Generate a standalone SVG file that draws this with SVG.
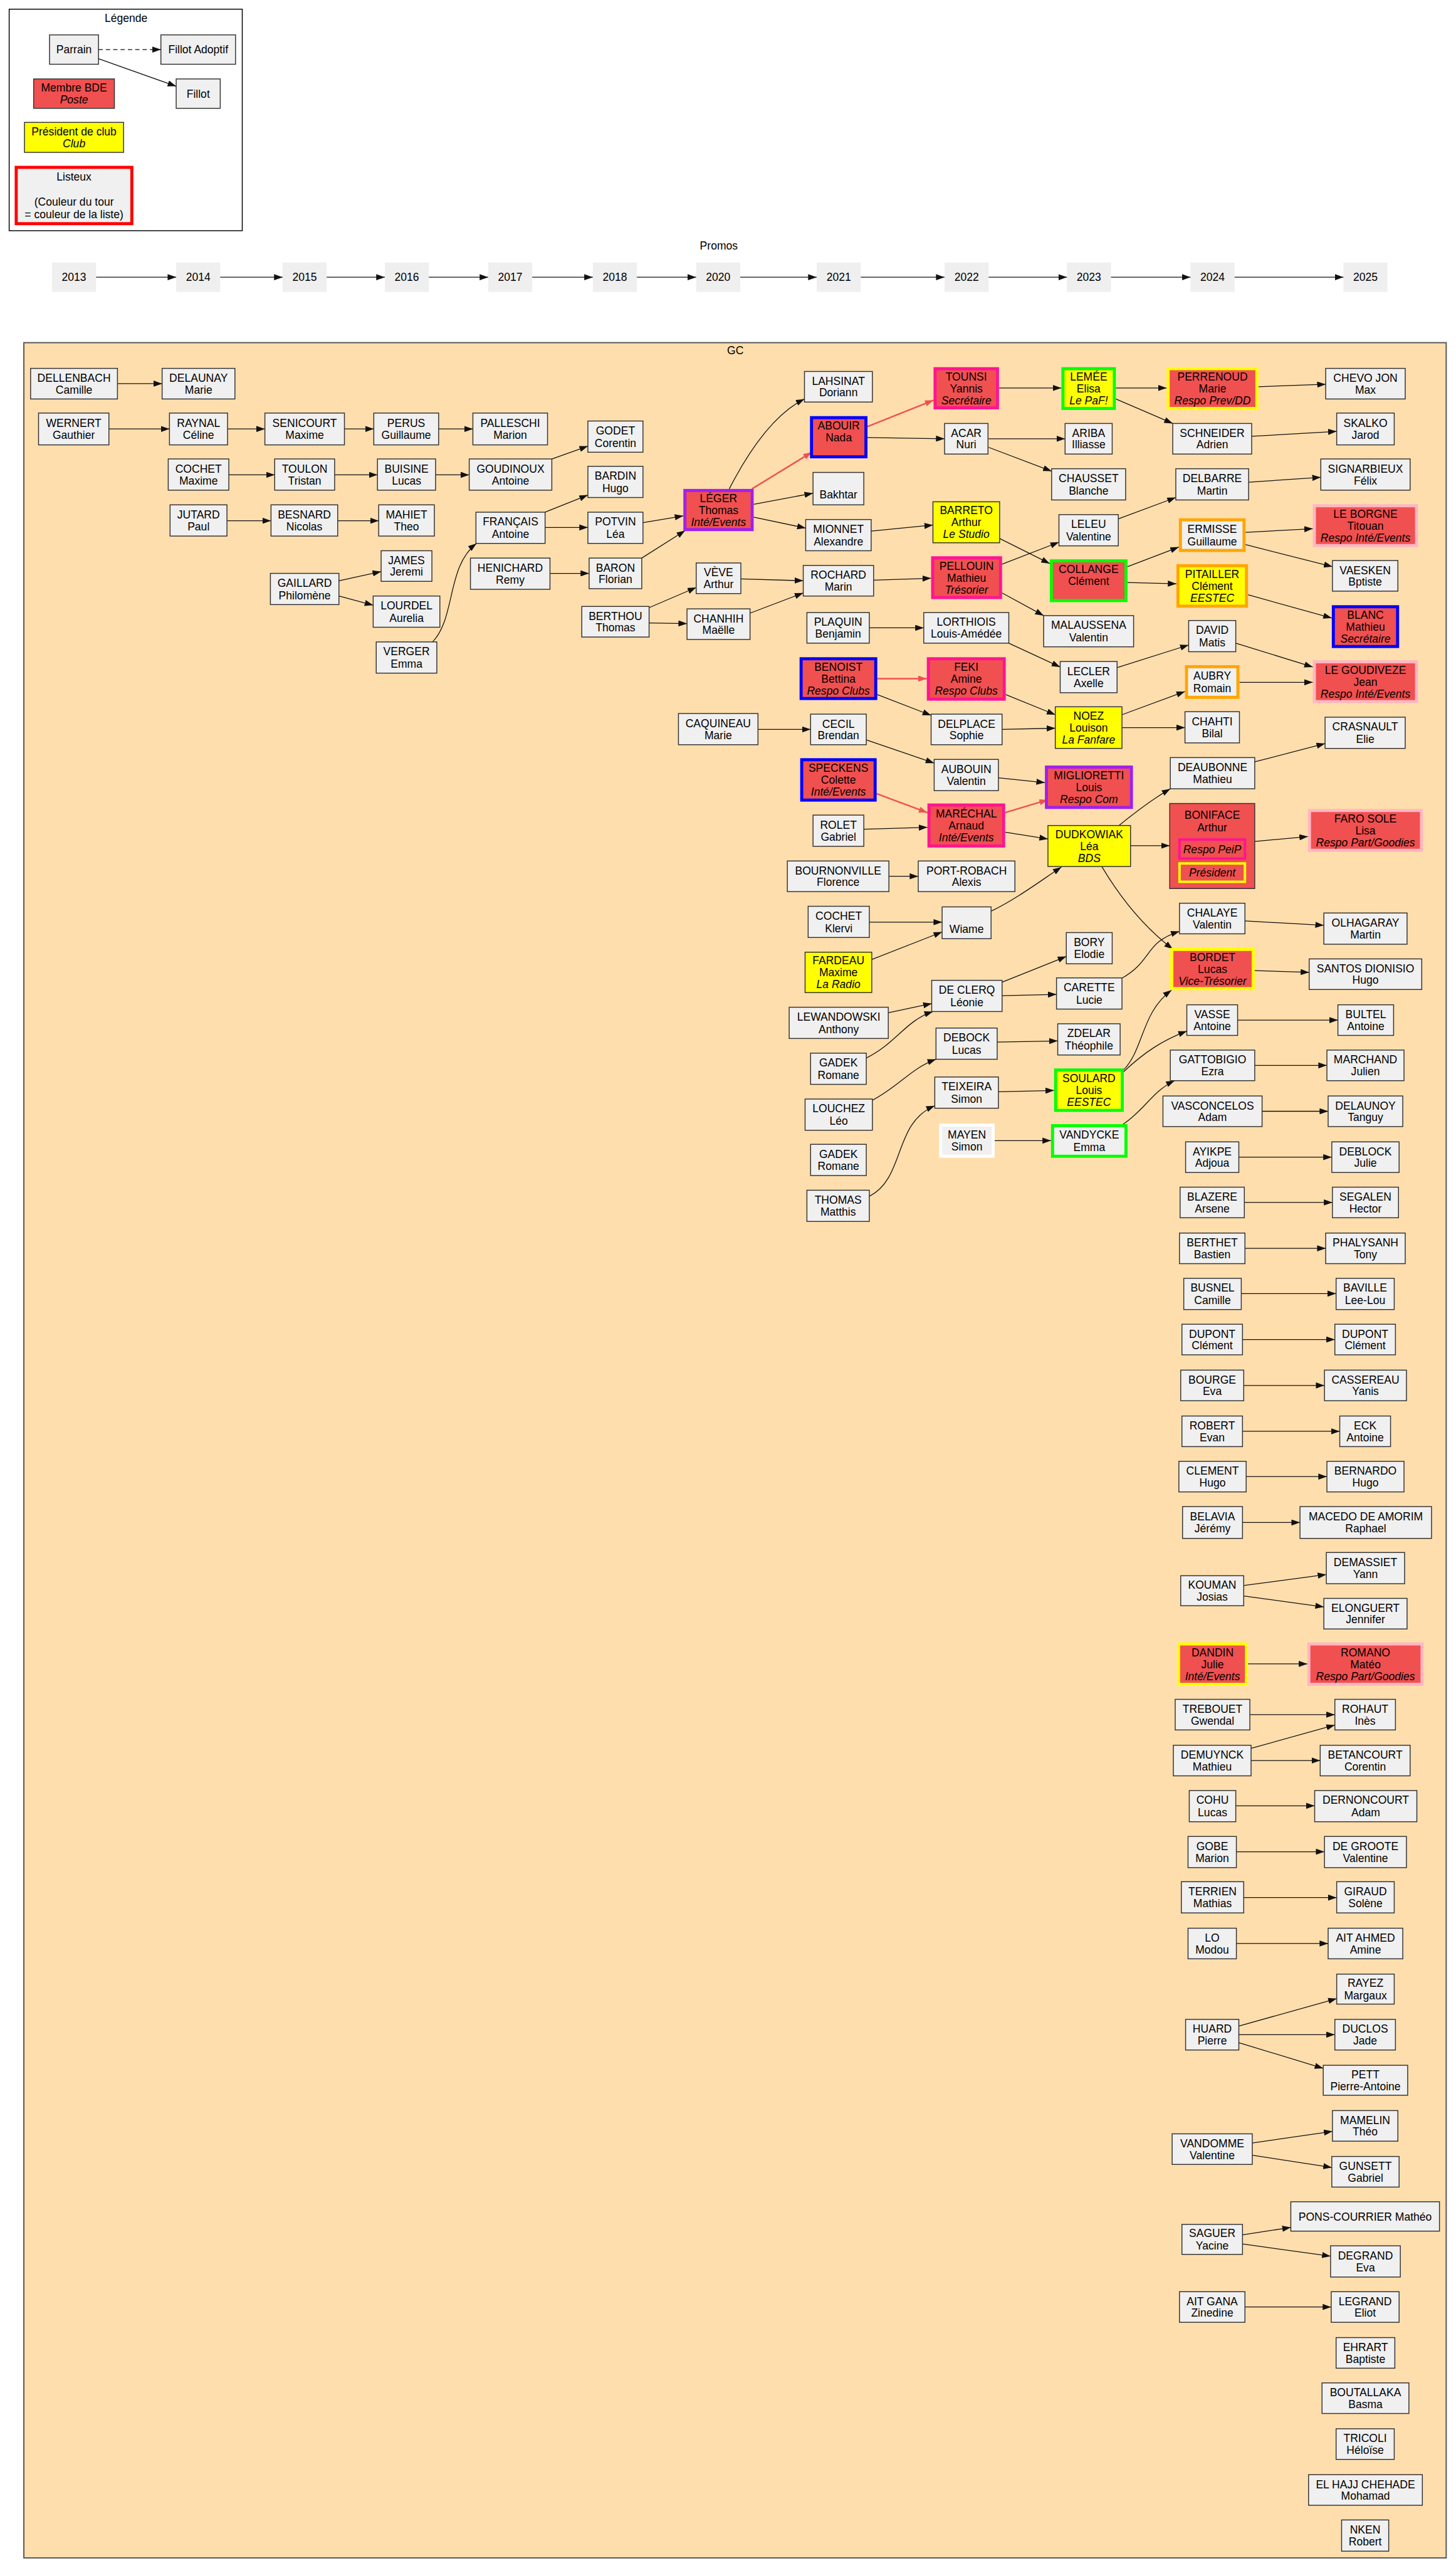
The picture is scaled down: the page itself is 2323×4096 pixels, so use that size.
<svg xmlns="http://www.w3.org/2000/svg" width="2323" height="4096" viewBox="0 0 2323 4096">
<style>
.n{fill:#f0f0f0;stroke:#333;stroke-width:1.5}
.r{fill:#f05050}
.y{fill:#ffff00}
.tk{stroke-width:5}
.sb{stroke:#0000ff}.sp{stroke:#ff1493}.su{stroke:#a020f0}.sg{stroke:#00ff00}.so{stroke:#ffa500}.sl{stroke:#ffb6c1}.sy{stroke:#ffff00}.sw{stroke:#ffffff}.sr{stroke:#ff0000}
.yr{fill:#efefef}
text{font-family:"Liberation Sans",Arial,sans-serif;font-size:18px;text-anchor:middle;fill:#000}
.i{font-style:italic}
.e{fill:none;stroke:#111;stroke-width:1.3;marker-end:url(#a)}
.er{fill:none;stroke:#f05050;stroke-width:2.5;marker-end:url(#ar)}
.d{stroke-dasharray:7,5}
</style>
<defs>
<marker id="a" markerUnits="userSpaceOnUse" markerWidth="14" markerHeight="10" refX="14" refY="5" orient="auto"><path d="M0,0L14,5L0,10z" fill="#111"/></marker>
<marker id="ar" markerUnits="userSpaceOnUse" markerWidth="14" markerHeight="10" refX="14" refY="5" orient="auto"><path d="M0,0L14,5L0,10z" fill="#f05050"/></marker>
</defs>
<rect width="2323" height="4096" fill="#fff"/>
<g transform="scale(0.97605)">
<g id="legend">
<rect x="15" y="15" width="381" height="362" fill="#fff" stroke="#000" stroke-width="1.5"/>
<text x="206" y="36">Légende</text>
<g id="lg-parrain"><rect class="n" x="81" y="57" width="80" height="48"/><text x="121" y="87.5">Parrain</text></g>
<g id="lg-adoptif"><rect class="n" x="263" y="57" width="122" height="48"/><text x="324" y="87.5">Fillot Adoptif</text></g>
<g id="lg-bde"><rect class="n r" x="55" y="129" width="132" height="48"/><text x="121"><tspan x="121" y="149.5">Membre BDE</tspan><tspan class="i" x="121" y="169">Poste</tspan></text></g>
<g id="lg-fillot"><rect class="n" x="288" y="129" width="72" height="48"/><text x="324" y="159.5">Fillot</text></g>
<g id="lg-club"><rect class="n y" x="40" y="200" width="162" height="49"/><text x="121"><tspan x="121" y="221">Président de club</tspan><tspan class="i" x="121" y="240.5">Club</tspan></text></g>
<g id="lg-listeux"><rect class="n tk sr" x="26.5" y="273.5" width="189" height="92"/><text x="121"><tspan x="121" y="295">Listeux</tspan><tspan x="121" y="336">(Couleur du tour</tspan><tspan x="121" y="356.5">= couleur de la liste)</tspan></text></g>
<path class="e d" d="M161,81L263,81"/>
<path class="e" d="M161,96L288,141"/>
</g>
<g id="promos">
<text x="1175" y="408">Promos</text>
<g id="y2013"><rect class="yr" x="85" y="429" width="72" height="48"/><text x="121" y="459.5">2013</text></g>
<g id="y2014"><rect class="yr" x="288" y="429" width="72" height="48"/><text x="324" y="459.5">2014</text></g>
<g id="y2015"><rect class="yr" x="462" y="429" width="72" height="48"/><text x="498" y="459.5">2015</text></g>
<g id="y2016"><rect class="yr" x="629" y="429" width="72" height="48"/><text x="665" y="459.5">2016</text></g>
<g id="y2017"><rect class="yr" x="798" y="429" width="72" height="48"/><text x="834" y="459.5">2017</text></g>
<g id="y2018"><rect class="yr" x="969" y="429" width="72" height="48"/><text x="1005" y="459.5">2018</text></g>
<g id="y2020"><rect class="yr" x="1138" y="429" width="72" height="48"/><text x="1174" y="459.5">2020</text></g>
<g id="y2021"><rect class="yr" x="1335" y="429" width="72" height="48"/><text x="1371" y="459.5">2021</text></g>
<g id="y2022"><rect class="yr" x="1544" y="429" width="72" height="48"/><text x="1580" y="459.5">2022</text></g>
<g id="y2023"><rect class="yr" x="1744" y="429" width="72" height="48"/><text x="1780" y="459.5">2023</text></g>
<g id="y2024"><rect class="yr" x="1946" y="429" width="72" height="48"/><text x="1982" y="459.5">2024</text></g>
<g id="y2025"><rect class="yr" x="2196" y="429" width="72" height="48"/><text x="2232" y="459.5">2025</text></g>
<path class="e" d="M157,453L288,453"/><path class="e" d="M360,453L462,453"/><path class="e" d="M534,453L629,453"/><path class="e" d="M701,453L798,453"/><path class="e" d="M870,453L969,453"/><path class="e" d="M1041,453L1138,453"/><path class="e" d="M1210,453L1335,453"/><path class="e" d="M1407,453L1544,453"/><path class="e" d="M1616,453L1744,453"/><path class="e" d="M1816,453L1946,453"/><path class="e" d="M2018,453L2196,453"/>
</g>
<g id="gc">
<rect x="39" y="560" width="2325" height="3620" fill="#ffdead" stroke="#555" stroke-width="2"/>
<text x="1202" y="579">GC</text>
</g>
<g id="edges">
<path class="e" d="M192,627L265,627"/>
<path class="e" d="M178,701L277,701"/>
<path class="e" d="M372,701L433,701"/>
<path class="e" d="M563,701L611,701"/>
<path class="e" d="M717,701L773,701"/>
<path class="e" d="M374,776L449,776"/>
<path class="e" d="M547,776L617,776"/>
<path class="e" d="M712,776L767,776"/>
<path class="e" d="M371,851L443,851"/>
<path class="e" d="M552,851L619,851"/>
<path class="e" d="M554,949L623,934"/>
<path class="e" d="M554,974L610,989"/>
<path class="e" d="M902,750L961,729"/>
<path class="e" d="M891,837L961,809"/>
<path class="e" d="M891,862L961,862"/>
<path class="e" d="M899,937L963,937"/>
<path class="e" d="M1051,854L1117,843"/>
<path class="e" d="M1049,912L1120,867"/>
<path class="e" d="M1232,824L1329,806"/>
<path class="e" d="M1232,845L1317,863"/>
<path class="e" d="M1061,993L1138,960"/>
<path class="e" d="M1061,1018L1123,1019"/>
<path class="e" d="M1211,946L1313,949"/>
<path class="e" d="M1226,1002L1313,969"/>
<path class="e" d="M1418,715L1544,717"/>
<path class="e" d="M1424,868L1525,858"/>
<path class="e" d="M1428,948L1522,945"/>
<path class="e" d="M1421,1026L1510,1026"/>
<path class="e" d="M1434,1135L1522,1169"/>
<path class="e" d="M1239,1192L1325,1192"/>
<path class="e" d="M1416,1209L1527,1247"/>
<path class="e" d="M1412,1355L1516,1352"/>
<path class="e" d="M1453,1432L1501,1432"/>
<path class="e" d="M1421,1507L1540,1507"/>
<path class="e" d="M1425,1568L1540,1523"/>
<path class="e" d="M1452,1655L1523,1640"/>
<path class="e" d="M1638,1605L1743,1563"/>
<path class="e" d="M1638,1627L1727,1625"/>
<path class="e" d="M1630,1703L1729,1701"/>
<path class="e" d="M1632,1784L1723,1782"/>
<path class="e" d="M1626,1864L1718,1864"/>
<path class="e" d="M1633,634L1735,634"/>
<path class="e" d="M1824,634L1907,634"/>
<path class="e" d="M1824,652L1917,692"/>
<path class="e" d="M2057,632L2167,628"/>
<path class="e" d="M1616,717L1741,717"/>
<path class="e" d="M1616,731L1719,770"/>
<path class="e" d="M2046,713L2185,705"/>
<path class="e" d="M2041,788L2159,780"/>
<path class="e" d="M1828,848L1922,813"/>
<path class="e" d="M1634,880L1716,921"/>
<path class="e" d="M1638,922L1731,886"/>
<path class="e" d="M1638,969L1706,1006"/>
<path class="e" d="M1843,926L1927,894"/>
<path class="e" d="M1843,952L1923,954"/>
<path class="e" d="M2036,870L2146,864"/>
<path class="e" d="M2036,890L2178,926"/>
<path class="e" d="M2040,972L2177,1010"/>
<path class="e" d="M1649,1051L1733,1090"/>
<path class="e" d="M1826,1091L1943,1054"/>
<path class="e" d="M2020,1051L2146,1090"/>
<path class="e" d="M2026,1115L2146,1115"/>
<path class="e" d="M1644,1135L1725,1168"/>
<path class="e" d="M1834,1168L1937,1130"/>
<path class="e" d="M1834,1189L1937,1189"/>
<path class="e" d="M1638,1192L1725,1190"/>
<path class="e" d="M2051,1245L2166,1215"/>
<path class="e" d="M1632,1271L1708,1279"/>
<path class="e" d="M1643,1360L1713,1371"/>
<path class="e" d="M1829,1349C1855,1328 1885,1305 1913,1289"/>
<path class="e" d="M1847,1382L1912,1382"/>
<path class="e" d="M2051,1375L2138,1367"/>
<path class="e" d="M2035,1505L2164,1512"/>
<path class="e" d="M2051,1586L2140,1589"/>
<path class="e" d="M2023,1667L2187,1667"/>
<path class="e" d="M2051,1741L2169,1741"/>
<path class="e" d="M2063,1816L2171,1816"/>
<path class="e" d="M2025,1891L2177,1891"/>
<path class="e" d="M2034,1965L2178,1965"/>
<path class="e" d="M2035,2040L2167,2040"/>
<path class="e" d="M2029,2114L2184,2114"/>
<path class="e" d="M2031,2189L2182,2189"/>
<path class="e" d="M2033,2264L2165,2264"/>
<path class="e" d="M2031,2339L2190,2339"/>
<path class="e" d="M2037,2413L2169,2413"/>
<path class="e" d="M2031,2488L2125,2488"/>
<path class="e" d="M2033,2591L2168,2573"/>
<path class="e" d="M2033,2608L2164,2626"/>
<path class="e" d="M2040,2719L2137,2719"/>
<path class="e" d="M2043,2802L2182,2802"/>
<path class="e" d="M2045,2857L2182,2819"/>
<path class="e" d="M2045,2877L2158,2877"/>
<path class="e" d="M2020,2951L2149,2951"/>
<path class="e" d="M2021,3026L2165,3026"/>
<path class="e" d="M2033,3101L2185,3101"/>
<path class="e" d="M2021,3176L2171,3176"/>
<path class="e" d="M2025,3311L2185,3266"/>
<path class="e" d="M2025,3325L2182,3325"/>
<path class="e" d="M2025,3338L2163,3380"/>
<path class="e" d="M2047,3502L2178,3483"/>
<path class="e" d="M2047,3522L2177,3542"/>
<path class="e" d="M2031,3652L2110,3640"/>
<path class="e" d="M2031,3667L2175,3687"/>
<path class="e" d="M2035,3770L2176,3770"/>
<path class="er" d="M1229,799L1327,739"/>
<path class="er" d="M1418,697L1526,654"/>
<path class="er" d="M1434,1109L1515,1109"/>
<path class="er" d="M1433,1297L1516,1328"/>
<path class="er" d="M1643,1328L1713,1307"/>
<path class="e" d="M1192,799C1225,735 1265,677 1315,652"/>
<path class="e" d="M707,1049C745,1010 730,925 779,888"/>
<path class="e" d="M1620,1489C1660,1470 1700,1440 1735,1417"/>
<path class="e" d="M1801,1416C1830,1465 1870,1515 1917,1551"/>
<path class="e" d="M1833,1599C1885,1570 1870,1540 1928,1522"/>
<path class="e" d="M1836,1749C1870,1715 1865,1655 1915,1618"/>
<path class="e" d="M1836,1752C1870,1720 1900,1700 1940,1685"/>
<path class="e" d="M1836,1837C1870,1815 1885,1782 1920,1766"/>
<path class="e" d="M1416,1729C1465,1705 1480,1668 1525,1653"/>
<path class="e" d="M1426,1798C1470,1775 1490,1745 1530,1731"/>
<path class="e" d="M1421,1955C1480,1925 1460,1835 1528,1807"/>
</g>
<g id="nodes">
<g id="dellenbach"><rect class="n" x="50" y="602" width="142" height="50"/><text><tspan x="121" y="624">DELLENBACH</tspan><tspan x="121" y="643">Camille</tspan></text></g>
<g id="wernert"><rect class="n" x="63" y="675" width="115" height="52"/><text><tspan x="120.5" y="698">WERNERT</tspan><tspan x="120.5" y="717">Gauthier</tspan></text></g>
<g id="delaunay"><rect class="n" x="265" y="602" width="119" height="50"/><text><tspan x="324.5" y="624">DELAUNAY</tspan><tspan x="324.5" y="643">Marie</tspan></text></g>
<g id="raynal"><rect class="n" x="277" y="675" width="95" height="52"/><text><tspan x="324.5" y="698">RAYNAL</tspan><tspan x="324.5" y="717">Céline</tspan></text></g>
<g id="cochet-maxime"><rect class="n" x="275" y="750" width="99" height="51"/><text><tspan x="324.5" y="772">COCHET</tspan><tspan x="324.5" y="792">Maxime</tspan></text></g>
<g id="jutard"><rect class="n" x="278" y="825" width="93" height="51"/><text><tspan x="324.5" y="847">JUTARD</tspan><tspan x="324.5" y="867">Paul</tspan></text></g>
<g id="senicourt"><rect class="n" x="433" y="675" width="130" height="52"/><text><tspan x="498" y="698">SENICOURT</tspan><tspan x="498" y="717">Maxime</tspan></text></g>
<g id="toulon"><rect class="n" x="449" y="750" width="98" height="51"/><text><tspan x="498" y="772">TOULON</tspan><tspan x="498" y="792">Tristan</tspan></text></g>
<g id="besnard"><rect class="n" x="443" y="825" width="109" height="51"/><text><tspan x="497.5" y="847">BESNARD</tspan><tspan x="497.5" y="867">Nicolas</tspan></text></g>
<g id="gaillard"><rect class="n" x="442" y="937" width="112" height="51"/><text><tspan x="498" y="959">GAILLARD</tspan><tspan x="498" y="979">Philomène</tspan></text></g>
<g id="perus"><rect class="n" x="611" y="675" width="106" height="52"/><text><tspan x="664" y="698">PERUS</tspan><tspan x="664" y="717">Guillaume</tspan></text></g>
<g id="buisine"><rect class="n" x="617" y="750" width="95" height="51"/><text><tspan x="664.5" y="772">BUISINE</tspan><tspan x="664.5" y="792">Lucas</tspan></text></g>
<g id="mahiet"><rect class="n" x="619" y="825" width="91" height="51"/><text><tspan x="664.5" y="847">MAHIET</tspan><tspan x="664.5" y="867">Theo</tspan></text></g>
<g id="james"><rect class="n" x="623" y="900" width="83" height="50"/><text><tspan x="664.5" y="922">JAMES</tspan><tspan x="664.5" y="941">Jeremi</tspan></text></g>
<g id="lourdel"><rect class="n" x="610" y="974" width="109" height="51"/><text><tspan x="664.5" y="996">LOURDEL</tspan><tspan x="664.5" y="1016">Aurelia</tspan></text></g>
<g id="verger"><rect class="n" x="615" y="1049" width="99" height="51"/><text><tspan x="664.5" y="1071">VERGER</tspan><tspan x="664.5" y="1091">Emma</tspan></text></g>
<g id="palleschi"><rect class="n" x="773" y="675" width="122" height="52"/><text><tspan x="834" y="698">PALLESCHI</tspan><tspan x="834" y="717">Marion</tspan></text></g>
<g id="goudinoux"><rect class="n" x="767" y="750" width="135" height="51"/><text><tspan x="834.5" y="772">GOUDINOUX</tspan><tspan x="834.5" y="792">Antoine</tspan></text></g>
<g id="francais"><rect class="n" x="778" y="837" width="113" height="51"/><text><tspan x="834.5" y="859">FRANÇAIS</tspan><tspan x="834.5" y="879">Antoine</tspan></text></g>
<g id="henichard"><rect class="n" x="769" y="912" width="130" height="51"/><text><tspan x="834" y="934">HENICHARD</tspan><tspan x="834" y="954">Remy</tspan></text></g>
<g id="godet"><rect class="n" x="961" y="688" width="90" height="51"/><text><tspan x="1006" y="710">GODET</tspan><tspan x="1006" y="730">Corentin</tspan></text></g>
<g id="bardin"><rect class="n" x="961" y="762" width="90" height="51"/><text><tspan x="1006" y="784">BARDIN</tspan><tspan x="1006" y="804">Hugo</tspan></text></g>
<g id="potvin"><rect class="n" x="961" y="837" width="90" height="51"/><text><tspan x="1006" y="859">POTVIN</tspan><tspan x="1006" y="879">Léa</tspan></text></g>
<g id="baron"><rect class="n" x="963" y="912" width="86" height="50"/><text><tspan x="1006" y="934">BARON</tspan><tspan x="1006" y="953">Florian</tspan></text></g>
<g id="berthou"><rect class="n" x="951" y="991" width="110" height="50"/><text><tspan x="1006" y="1013">BERTHOU</tspan><tspan x="1006" y="1032">Thomas</tspan></text></g>
<g id="leger"><rect class="n r tk su" x="1119.5" y="801.5" width="110" height="64"/><text><tspan x="1174.5" y="820.5">LÉGER</tspan><tspan x="1174.5" y="840">Thomas</tspan><tspan class="i" x="1174.5" y="859.5">Inté/Events</tspan></text></g>
<g id="veve"><rect class="n" x="1138" y="920" width="73" height="50"/><text><tspan x="1174.5" y="942">VÈVE</tspan><tspan x="1174.5" y="961">Arthur</tspan></text></g>
<g id="chanhih"><rect class="n" x="1123" y="995" width="103" height="50"/><text><tspan x="1174.5" y="1017">CHANHIH</tspan><tspan x="1174.5" y="1036">Maëlle</tspan></text></g>
<g id="caquineau"><rect class="n" x="1109" y="1166" width="130" height="51"/><text><tspan x="1174" y="1188">CAQUINEAU</tspan><tspan x="1174" y="1208">Marie</tspan></text></g>
<g id="lahsinat"><rect class="n" x="1315" y="607" width="111" height="50"/><text><tspan x="1370.5" y="629">LAHSINAT</tspan><tspan x="1370.5" y="648">Doriann</tspan></text></g>
<g id="abouir"><rect class="n r tk sb" x="1326.5" y="682.5" width="89" height="64"/><text><tspan x="1371" y="701.5">ABOUIR</tspan><tspan x="1371" y="721">Nada</tspan></text></g>
<g id="bakhtar"><rect class="n" x="1329" y="772" width="83" height="53"/><text x="1370.5" y="814.5">Bakhtar</text></g>
<g id="mionnet"><rect class="n" x="1317" y="849" width="107" height="51"/><text><tspan x="1370.5" y="871">MIONNET</tspan><tspan x="1370.5" y="891">Alexandre</tspan></text></g>
<g id="rochard"><rect class="n" x="1313" y="924" width="115" height="50"/><text><tspan x="1370.5" y="946">ROCHARD</tspan><tspan x="1370.5" y="965">Marin</tspan></text></g>
<g id="plaquin"><rect class="n" x="1319" y="1001" width="102" height="50"/><text><tspan x="1370" y="1023">PLAQUIN</tspan><tspan x="1370" y="1042">Benjamin</tspan></text></g>
<g id="benoist"><rect class="n r tk sb" x="1309.5" y="1076.5" width="122" height="65"/><text><tspan x="1370.5" y="1096">BENOIST</tspan><tspan x="1370.5" y="1115.5">Bettina</tspan><tspan class="i" x="1370.5" y="1135">Respo Clubs</tspan></text></g>
<g id="cecil"><rect class="n" x="1325" y="1167" width="91" height="50"/><text><tspan x="1370.5" y="1189">CECIL</tspan><tspan x="1370.5" y="1208">Brendan</tspan></text></g>
<g id="speckens"><rect class="n r tk sb" x="1310.5" y="1241.5" width="120" height="66"/><text><tspan x="1370.5" y="1261.5">SPECKENS</tspan><tspan x="1370.5" y="1281">Colette</tspan><tspan class="i" x="1370.5" y="1300.5">Inté/Events</tspan></text></g>
<g id="rolet"><rect class="n" x="1329" y="1332" width="83" height="51"/><text><tspan x="1370.5" y="1354">ROLET</tspan><tspan x="1370.5" y="1374">Gabriel</tspan></text></g>
<g id="bournonville"><rect class="n" x="1287" y="1407" width="166" height="50"/><text><tspan x="1370" y="1429">BOURNONVILLE</tspan><tspan x="1370" y="1448">Florence</tspan></text></g>
<g id="cochet-klervi"><rect class="n" x="1321" y="1481" width="100" height="51"/><text><tspan x="1371" y="1503">COCHET</tspan><tspan x="1371" y="1523">Klervi</tspan></text></g>
<g id="fardeau"><rect class="n y" x="1316" y="1556" width="109" height="66"/><text><tspan x="1370.5" y="1576">FARDEAU</tspan><tspan x="1370.5" y="1595.5">Maxime</tspan><tspan class="i" x="1370.5" y="1615">La Radio</tspan></text></g>
<g id="lewandowski"><rect class="n" x="1290" y="1646" width="162" height="51"/><text><tspan x="1371" y="1668">LEWANDOWSKI</tspan><tspan x="1371" y="1688">Anthony</tspan></text></g>
<g id="gadek-1"><rect class="n" x="1325" y="1721" width="91" height="51"/><text><tspan x="1370.5" y="1743">GADEK</tspan><tspan x="1370.5" y="1763">Romane</tspan></text></g>
<g id="louchez"><rect class="n" x="1316" y="1796" width="110" height="51"/><text><tspan x="1371" y="1818">LOUCHEZ</tspan><tspan x="1371" y="1838">Léo</tspan></text></g>
<g id="gadek-2"><rect class="n" x="1325" y="1870" width="91" height="51"/><text><tspan x="1370.5" y="1892">GADEK</tspan><tspan x="1370.5" y="1912">Romane</tspan></text></g>
<g id="thomas"><rect class="n" x="1319" y="1945" width="102" height="51"/><text><tspan x="1370" y="1967">THOMAS</tspan><tspan x="1370" y="1987">Matthis</tspan></text></g>
<g id="tounsi"><rect class="n r tk sp" x="1528.5" y="602.5" width="102" height="64"/><text><tspan x="1579.5" y="621.5">TOUNSI</tspan><tspan x="1579.5" y="641">Yannis</tspan><tspan class="i" x="1579.5" y="660.5">Secrétaire</tspan></text></g>
<g id="acar"><rect class="n" x="1544" y="692" width="71" height="50"/><text><tspan x="1579.5" y="714">ACAR</tspan><tspan x="1579.5" y="733">Nuri</tspan></text></g>
<g id="barreto"><rect class="n y" x="1525" y="820" width="109" height="67"/><text><tspan x="1579.5" y="840.5">BARRETO</tspan><tspan x="1579.5" y="860">Arthur</tspan><tspan class="i" x="1579.5" y="879.5">Le Studio</tspan></text></g>
<g id="pellouin"><rect class="n r tk sp" x="1524.5" y="911.5" width="111" height="65"/><text><tspan x="1580" y="931">PELLOUIN</tspan><tspan x="1580" y="950.5">Mathieu</tspan><tspan class="i" x="1580" y="970">Trésorier</tspan></text></g>
<g id="lorthiois"><rect class="n" x="1510" y="1001" width="139" height="50"/><text><tspan x="1579.5" y="1023">LORTHIOIS</tspan><tspan x="1579.5" y="1042">Louis-Amédée</tspan></text></g>
<g id="feki"><rect class="n r tk sp" x="1517.5" y="1076.5" width="124" height="66"/><text><tspan x="1579.5" y="1096.5">FEKI</tspan><tspan x="1579.5" y="1116">Amine</tspan><tspan class="i" x="1579.5" y="1135.5">Respo Clubs</tspan></text></g>
<g id="delplace"><rect class="n" x="1522" y="1167" width="116" height="50"/><text><tspan x="1580" y="1189">DELPLACE</tspan><tspan x="1580" y="1208">Sophie</tspan></text></g>
<g id="aubouin"><rect class="n" x="1527" y="1241" width="105" height="51"/><text><tspan x="1579.5" y="1263">AUBOUIN</tspan><tspan x="1579.5" y="1283">Valentin</tspan></text></g>
<g id="marechal"><rect class="n r tk sp" x="1518.5" y="1315.5" width="122" height="67"/><text><tspan x="1579.5" y="1336">MARÉCHAL</tspan><tspan x="1579.5" y="1355.5">Arnaud</tspan><tspan class="i" x="1579.5" y="1375">Inté/Events</tspan></text></g>
<g id="port-robach"><rect class="n" x="1501" y="1407" width="158" height="50"/><text><tspan x="1580" y="1429">PORT-ROBACH</tspan><tspan x="1580" y="1448">Alexis</tspan></text></g>
<g id="wiame"><rect class="n" x="1540" y="1482" width="80" height="52"/><text x="1580" y="1524">Wiame</text></g>
<g id="declerq"><rect class="n" x="1523" y="1602" width="115" height="51"/><text><tspan x="1580.5" y="1624">DE CLERQ</tspan><tspan x="1580.5" y="1644">Léonie</tspan></text></g>
<g id="debock"><rect class="n" x="1530" y="1680" width="100" height="51"/><text><tspan x="1580" y="1702">DEBOCK</tspan><tspan x="1580" y="1722">Lucas</tspan></text></g>
<g id="teixeira"><rect class="n" x="1528" y="1760" width="104" height="51"/><text><tspan x="1580" y="1782">TEIXEIRA</tspan><tspan x="1580" y="1802">Simon</tspan></text></g>
<g id="mayen"><rect class="n tk sw" x="1537.5" y="1838.5" width="86" height="51"/><text><tspan x="1580.5" y="1861">MAYEN</tspan><tspan x="1580.5" y="1880">Simon</tspan></text></g>
<g id="lemee"><rect class="n y tk sg" x="1737.5" y="602.5" width="84" height="65"/><text><tspan x="1779.5" y="622">LEMÉE</tspan><tspan x="1779.5" y="641.5">Elisa</tspan><tspan class="i" x="1779.5" y="661">Le PaF!</tspan></text></g>
<g id="ariba"><rect class="n" x="1741" y="692" width="77" height="50"/><text><tspan x="1779.5" y="714">ARIBA</tspan><tspan x="1779.5" y="733">Illiasse</tspan></text></g>
<g id="chausset"><rect class="n" x="1719" y="766" width="121" height="51"/><text><tspan x="1779.5" y="788">CHAUSSET</tspan><tspan x="1779.5" y="808">Blanche</tspan></text></g>
<g id="leleu"><rect class="n" x="1731" y="841" width="97" height="51"/><text><tspan x="1779.5" y="863">LELEU</tspan><tspan x="1779.5" y="883">Valentine</tspan></text></g>
<g id="collange"><rect class="n r tk sg" x="1718.5" y="916.5" width="122" height="65"/><text><tspan x="1779.5" y="936">COLLANGE</tspan><tspan x="1779.5" y="955.5">Clément</tspan></text></g>
<g id="malaussena"><rect class="n" x="1706" y="1006" width="147" height="51"/><text><tspan x="1779.5" y="1028">MALAUSSENA</tspan><tspan x="1779.5" y="1048">Valentin</tspan></text></g>
<g id="lecler"><rect class="n" x="1733" y="1081" width="93" height="51"/><text><tspan x="1779.5" y="1103">LECLER</tspan><tspan x="1779.5" y="1123">Axelle</tspan></text></g>
<g id="noez"><rect class="n y" x="1725" y="1155" width="109" height="68"/><text><tspan x="1779.5" y="1176">NOEZ</tspan><tspan x="1779.5" y="1195.5">Louison</tspan><tspan class="i" x="1779.5" y="1215">La Fanfare</tspan></text></g>
<g id="miglioretti"><rect class="n r tk su" x="1710.5" y="1253.5" width="139" height="66"/><text><tspan x="1780" y="1273.5">MIGLIORETTI</tspan><tspan x="1780" y="1293">Louis</tspan><tspan class="i" x="1780" y="1312.5">Respo Com</tspan></text></g>
<g id="dudkowiak"><rect class="n y" x="1713" y="1349" width="135" height="67"/><text><tspan x="1780.5" y="1369.5">DUDKOWIAK</tspan><tspan x="1780.5" y="1389">Léa</tspan><tspan class="i" x="1780.5" y="1408.5">BDS</tspan></text></g>
<g id="bory"><rect class="n" x="1743" y="1524" width="75" height="51"/><text><tspan x="1780.5" y="1546">BORY</tspan><tspan x="1780.5" y="1566">Elodie</tspan></text></g>
<g id="carette"><rect class="n" x="1727" y="1598" width="107" height="51"/><text><tspan x="1780.5" y="1620">CARETTE</tspan><tspan x="1780.5" y="1640">Lucie</tspan></text></g>
<g id="zdelar"><rect class="n" x="1729" y="1673" width="102" height="51"/><text><tspan x="1780" y="1695">ZDELAR</tspan><tspan x="1780" y="1715">Théophile</tspan></text></g>
<g id="soulard"><rect class="n y tk sg" x="1725.5" y="1748.5" width="109" height="66"/><text><tspan x="1780" y="1768.5">SOULARD</tspan><tspan x="1780" y="1788">Louis</tspan><tspan class="i" x="1780" y="1807.5">EESTEC</tspan></text></g>
<g id="vandycke"><rect class="n tk sg" x="1720.5" y="1839.5" width="120" height="50"/><text><tspan x="1780.5" y="1861">VANDYCKE</tspan><tspan x="1780.5" y="1881">Emma</tspan></text></g>
<g id="perrenoud"><rect class="n r tk sy" x="1909.5" y="602.5" width="145" height="65"/><text><tspan x="1982" y="622">PERRENOUD</tspan><tspan x="1982" y="641.5">Marie</tspan><tspan class="i" x="1982" y="661">Respo Prev/DD</tspan></text></g>
<g id="schneider"><rect class="n" x="1917" y="692" width="129" height="50"/><text><tspan x="1981.5" y="714">SCHNEIDER</tspan><tspan x="1981.5" y="733">Adrien</tspan></text></g>
<g id="delbarre"><rect class="n" x="1922" y="766" width="119" height="51"/><text><tspan x="1981.5" y="788">DELBARRE</tspan><tspan x="1981.5" y="808">Martin</tspan></text></g>
<g id="ermisse"><rect class="n tk so" x="1929.5" y="849.5" width="104" height="50"/><text><tspan x="1981.5" y="871">ERMISSE</tspan><tspan x="1981.5" y="891">Guillaume</tspan></text></g>
<g id="pitailler"><rect class="n y tk so" x="1925.5" y="924.5" width="112" height="66"/><text><tspan x="1981.5" y="944.5">PITAILLER</tspan><tspan x="1981.5" y="964">Clément</tspan><tspan class="i" x="1981.5" y="983.5">EESTEC</tspan></text></g>
<g id="david"><rect class="n" x="1943" y="1014" width="77" height="51"/><text><tspan x="1981.5" y="1036">DAVID</tspan><tspan x="1981.5" y="1056">Matis</tspan></text></g>
<g id="aubry"><rect class="n tk so" x="1939.5" y="1089.5" width="84" height="50"/><text><tspan x="1981.5" y="1111">AUBRY</tspan><tspan x="1981.5" y="1131">Romain</tspan></text></g>
<g id="chahti"><rect class="n" x="1937" y="1163" width="89" height="51"/><text><tspan x="1981.5" y="1185">CHAHTI</tspan><tspan x="1981.5" y="1205">Bilal</tspan></text></g>
<g id="deaubonne"><rect class="n" x="1913" y="1238" width="138" height="51"/><text><tspan x="1982" y="1260">DEAUBONNE</tspan><tspan x="1982" y="1280">Mathieu</tspan></text></g>
<g id="boniface"><rect class="n r" x="1912" y="1313" width="139" height="139"/><text><tspan x="1981.5" y="1338.5">BONIFACE</tspan><tspan x="1981.5" y="1358.5">Arthur</tspan></text>
<rect class="r" x="1928" y="1372" width="107" height="31" stroke="#ff1493" stroke-width="4"/><text class="i" x="1981.5" y="1394">Respo PeiP</text>
<rect class="r" x="1928" y="1411" width="107" height="30" stroke="#ffff00" stroke-width="4"/><text class="i" x="1981.5" y="1432.5">Président</text></g>
<g id="chalaye"><rect class="n" x="1928" y="1476" width="107" height="50"/><text><tspan x="1981.5" y="1498">CHALAYE</tspan><tspan x="1981.5" y="1517">Valentin</tspan></text></g>
<g id="bordet"><rect class="n r tk sy" x="1915.5" y="1551.5" width="133" height="64"/><text><tspan x="1982" y="1570.5">BORDET</tspan><tspan x="1982" y="1590">Lucas</tspan><tspan class="i" x="1982" y="1609.5">Vice-Trésorier</tspan></text></g>
<g id="vasse"><rect class="n" x="1940" y="1642" width="83" height="50"/><text><tspan x="1981.5" y="1664">VASSE</tspan><tspan x="1981.5" y="1683">Antoine</tspan></text></g>
<g id="gattobigio"><rect class="n" x="1913" y="1716" width="138" height="50"/><text><tspan x="1982" y="1738">GATTOBIGIO</tspan><tspan x="1982" y="1757">Ezra</tspan></text></g>
<g id="vasconcelos"><rect class="n" x="1901" y="1791" width="162" height="50"/><text><tspan x="1982" y="1813">VASCONCELOS</tspan><tspan x="1982" y="1832">Adam</tspan></text></g>
<g id="ayikpe"><rect class="n" x="1938" y="1866" width="87" height="50"/><text><tspan x="1981.5" y="1888">AYIKPE</tspan><tspan x="1981.5" y="1907">Adjoua</tspan></text></g>
<g id="blazere"><rect class="n" x="1929" y="1940" width="105" height="50"/><text><tspan x="1981.5" y="1962">BLAZERE</tspan><tspan x="1981.5" y="1981">Arsene</tspan></text></g>
<g id="berthet"><rect class="n" x="1928" y="2015" width="107" height="50"/><text><tspan x="1981.5" y="2037">BERTHET</tspan><tspan x="1981.5" y="2056">Bastien</tspan></text></g>
<g id="busnel"><rect class="n" x="1935" y="2089" width="94" height="51"/><text><tspan x="1982" y="2111">BUSNEL</tspan><tspan x="1982" y="2131">Camille</tspan></text></g>
<g id="dupont-1"><rect class="n" x="1932" y="2164" width="99" height="50"/><text><tspan x="1981.5" y="2186">DUPONT</tspan><tspan x="1981.5" y="2205">Clément</tspan></text></g>
<g id="bourge"><rect class="n" x="1930" y="2239" width="103" height="50"/><text><tspan x="1981.5" y="2261">BOURGE</tspan><tspan x="1981.5" y="2280">Eva</tspan></text></g>
<g id="robert"><rect class="n" x="1932" y="2314" width="99" height="50"/><text><tspan x="1981.5" y="2336">ROBERT</tspan><tspan x="1981.5" y="2355">Evan</tspan></text></g>
<g id="clement"><rect class="n" x="1927" y="2388" width="110" height="50"/><text><tspan x="1982" y="2410">CLEMENT</tspan><tspan x="1982" y="2429">Hugo</tspan></text></g>
<g id="belavia"><rect class="n" x="1933" y="2462" width="98" height="52"/><text><tspan x="1982" y="2485">BELAVIA</tspan><tspan x="1982" y="2504">Jérémy</tspan></text></g>
<g id="kouman"><rect class="n" x="1930" y="2575" width="103" height="49"/><text><tspan x="1981.5" y="2596">KOUMAN</tspan><tspan x="1981.5" y="2616">Josias</tspan></text></g>
<g id="dandin"><rect class="n r tk sy" x="1926.5" y="2686.5" width="111" height="66"/><text><tspan x="1982" y="2706.5">DANDIN</tspan><tspan x="1982" y="2726">Julie</tspan><tspan class="i" x="1982" y="2745.5">Inté/Events</tspan></text></g>
<g id="trebouet"><rect class="n" x="1921" y="2777" width="122" height="50"/><text><tspan x="1982" y="2799">TREBOUET</tspan><tspan x="1982" y="2818">Gwendal</tspan></text></g>
<g id="demuynck"><rect class="n" x="1918" y="2852" width="127" height="50"/><text><tspan x="1981.5" y="2874">DEMUYNCK</tspan><tspan x="1981.5" y="2893">Mathieu</tspan></text></g>
<g id="cohu"><rect class="n" x="1944" y="2926" width="76" height="51"/><text><tspan x="1982" y="2948">COHU</tspan><tspan x="1982" y="2968">Lucas</tspan></text></g>
<g id="gobe"><rect class="n" x="1942" y="3001" width="79" height="51"/><text><tspan x="1981.5" y="3023">GOBE</tspan><tspan x="1981.5" y="3043">Marion</tspan></text></g>
<g id="terrien"><rect class="n" x="1931" y="3075" width="102" height="51"/><text><tspan x="1982" y="3097">TERRIEN</tspan><tspan x="1982" y="3117">Mathias</tspan></text></g>
<g id="lo"><rect class="n" x="1942" y="3151" width="79" height="50"/><text><tspan x="1981.5" y="3173">LO</tspan><tspan x="1981.5" y="3192">Modou</tspan></text></g>
<g id="huard"><rect class="n" x="1938" y="3300" width="87" height="50"/><text><tspan x="1981.5" y="3322">HUARD</tspan><tspan x="1981.5" y="3341">Pierre</tspan></text></g>
<g id="vandomme"><rect class="n" x="1916" y="3487" width="131" height="50"/><text><tspan x="1981.5" y="3509">VANDOMME</tspan><tspan x="1981.5" y="3528">Valentine</tspan></text></g>
<g id="saguer"><rect class="n" x="1932" y="3635" width="99" height="49"/><text><tspan x="1981.5" y="3656">SAGUER</tspan><tspan x="1981.5" y="3676">Yacine</tspan></text></g>
<g id="aitgana"><rect class="n" x="1928" y="3745" width="107" height="50"/><text><tspan x="1981.5" y="3767">AIT GANA</tspan><tspan x="1981.5" y="3786">Zinedine</tspan></text></g>
<g id="chevojon"><rect class="n" x="2167" y="602" width="130" height="50"/><text><tspan x="2232" y="624">CHEVO JON</tspan><tspan x="2232" y="643">Max</tspan></text></g>
<g id="skalko"><rect class="n" x="2185" y="675" width="94" height="52"/><text><tspan x="2232" y="698">SKALKO</tspan><tspan x="2232" y="717">Jarod</tspan></text></g>
<g id="signarbieux"><rect class="n" x="2159" y="750" width="146" height="51"/><text><tspan x="2232" y="772">SIGNARBIEUX</tspan><tspan x="2232" y="792">Félix</tspan></text></g>
<g id="leborgne"><rect class="n r tk sl" x="2148.5" y="826.5" width="167" height="65"/><text><tspan x="2232" y="846">LE BORGNE</tspan><tspan x="2232" y="865.5">Titouan</tspan><tspan class="i" x="2232" y="885">Respo Inté/Events</tspan></text></g>
<g id="vaesken"><rect class="n" x="2178" y="916" width="107" height="50"/><text><tspan x="2231.5" y="938">VAESKEN</tspan><tspan x="2231.5" y="957">Bptiste</tspan></text></g>
<g id="blanc"><rect class="n r tk sb" x="2179.5" y="991.5" width="105" height="65"/><text><tspan x="2232" y="1011">BLANC</tspan><tspan x="2232" y="1030.5">Mathieu</tspan><tspan class="i" x="2232" y="1050">Secrétaire</tspan></text></g>
<g id="legoudiveze"><rect class="n r tk sl" x="2148.5" y="1081.5" width="167" height="65"/><text><tspan x="2232" y="1101">LE GOUDIVEZE</tspan><tspan x="2232" y="1120.5">Jean</tspan><tspan class="i" x="2232" y="1140">Respo Inté/Events</tspan></text></g>
<g id="crasnault"><rect class="n" x="2166" y="1172" width="131" height="51"/><text><tspan x="2231.5" y="1194">CRASNAULT</tspan><tspan x="2231.5" y="1214">Elie</tspan></text></g>
<g id="farosole"><rect class="n r tk sl" x="2140.5" y="1324.5" width="183" height="65"/><text><tspan x="2232" y="1344">FARO SOLE</tspan><tspan x="2232" y="1363.5">Lisa</tspan><tspan class="i" x="2232" y="1383">Respo Part/Goodies</tspan></text></g>
<g id="olhagaray"><rect class="n" x="2164" y="1492" width="136" height="51"/><text><tspan x="2232" y="1514">OLHAGARAY</tspan><tspan x="2232" y="1534">Martin</tspan></text></g>
<g id="santos"><rect class="n" x="2140" y="1567" width="184" height="50"/><text><tspan x="2232" y="1589">SANTOS DIONISIO</tspan><tspan x="2232" y="1608">Hugo</tspan></text></g>
<g id="bultel"><rect class="n" x="2187" y="1642" width="91" height="50"/><text><tspan x="2232.5" y="1664">BULTEL</tspan><tspan x="2232.5" y="1683">Antoine</tspan></text></g>
<g id="marchand"><rect class="n" x="2169" y="1716" width="126" height="50"/><text><tspan x="2232" y="1738">MARCHAND</tspan><tspan x="2232" y="1757">Julien</tspan></text></g>
<g id="delaunoy"><rect class="n" x="2171" y="1791" width="122" height="50"/><text><tspan x="2232" y="1813">DELAUNOY</tspan><tspan x="2232" y="1832">Tanguy</tspan></text></g>
<g id="deblock"><rect class="n" x="2177" y="1866" width="110" height="50"/><text><tspan x="2232" y="1888">DEBLOCK</tspan><tspan x="2232" y="1907">Julie</tspan></text></g>
<g id="segalen"><rect class="n" x="2178" y="1940" width="108" height="50"/><text><tspan x="2232" y="1962">SEGALEN</tspan><tspan x="2232" y="1981">Hector</tspan></text></g>
<g id="phalysanh"><rect class="n" x="2167" y="2015" width="130" height="50"/><text><tspan x="2232" y="2037">PHALYSANH</tspan><tspan x="2232" y="2056">Tony</tspan></text></g>
<g id="baville"><rect class="n" x="2184" y="2089" width="95" height="51"/><text><tspan x="2231.5" y="2111">BAVILLE</tspan><tspan x="2231.5" y="2131">Lee-Lou</tspan></text></g>
<g id="dupont-2"><rect class="n" x="2182" y="2164" width="99" height="50"/><text><tspan x="2231.5" y="2186">DUPONT</tspan><tspan x="2231.5" y="2205">Clément</tspan></text></g>
<g id="cassereau"><rect class="n" x="2165" y="2239" width="134" height="50"/><text><tspan x="2232" y="2261">CASSEREAU</tspan><tspan x="2232" y="2280">Yanis</tspan></text></g>
<g id="eck"><rect class="n" x="2190" y="2314" width="83" height="50"/><text><tspan x="2231.5" y="2336">ECK</tspan><tspan x="2231.5" y="2355">Antoine</tspan></text></g>
<g id="bernardo"><rect class="n" x="2169" y="2388" width="126" height="50"/><text><tspan x="2232" y="2410">BERNARDO</tspan><tspan x="2232" y="2429">Hugo</tspan></text></g>
<g id="macedo"><rect class="n" x="2125" y="2462" width="215" height="52"/><text><tspan x="2232.5" y="2485">MACEDO DE AMORIM</tspan><tspan x="2232.5" y="2504">Raphael</tspan></text></g>
<g id="demassiet"><rect class="n" x="2168" y="2537" width="128" height="51"/><text><tspan x="2232" y="2559">DEMASSIET</tspan><tspan x="2232" y="2579">Yann</tspan></text></g>
<g id="elonguert"><rect class="n" x="2164" y="2612" width="136" height="50"/><text><tspan x="2232" y="2634">ELONGUERT</tspan><tspan x="2232" y="2653">Jennifer</tspan></text></g>
<g id="romano"><rect class="n r tk sl" x="2139.5" y="2686.5" width="185" height="66"/><text><tspan x="2232" y="2706.5">ROMANO</tspan><tspan x="2232" y="2726">Matéo</tspan><tspan class="i" x="2232" y="2745.5">Respo Part/Goodies</tspan></text></g>
<g id="rohaut"><rect class="n" x="2182" y="2777" width="99" height="50"/><text><tspan x="2231.5" y="2799">ROHAUT</tspan><tspan x="2231.5" y="2818">Inès</tspan></text></g>
<g id="betancourt"><rect class="n" x="2158" y="2852" width="147" height="50"/><text><tspan x="2231.5" y="2874">BETANCOURT</tspan><tspan x="2231.5" y="2893">Corentin</tspan></text></g>
<g id="dernoncourt"><rect class="n" x="2149" y="2926" width="167" height="51"/><text><tspan x="2232.5" y="2948">DERNONCOURT</tspan><tspan x="2232.5" y="2968">Adam</tspan></text></g>
<g id="degroote"><rect class="n" x="2165" y="3001" width="134" height="51"/><text><tspan x="2232" y="3023">DE GROOTE</tspan><tspan x="2232" y="3043">Valentine</tspan></text></g>
<g id="giraud"><rect class="n" x="2185" y="3075" width="94" height="51"/><text><tspan x="2232" y="3097">GIRAUD</tspan><tspan x="2232" y="3117">Solène</tspan></text></g>
<g id="aitahmed"><rect class="n" x="2171" y="3151" width="122" height="50"/><text><tspan x="2232" y="3173">AIT AHMED</tspan><tspan x="2232" y="3192">Amine</tspan></text></g>
<g id="rayez"><rect class="n" x="2185" y="3226" width="94" height="49"/><text><tspan x="2232" y="3247">RAYEZ</tspan><tspan x="2232" y="3267">Margaux</tspan></text></g>
<g id="duclos"><rect class="n" x="2182" y="3300" width="99" height="50"/><text><tspan x="2231.5" y="3322">DUCLOS</tspan><tspan x="2231.5" y="3341">Jade</tspan></text></g>
<g id="pett"><rect class="n" x="2163" y="3375" width="138" height="49"/><text><tspan x="2232" y="3396">PETT</tspan><tspan x="2232" y="3416">Pierre-Antoine</tspan></text></g>
<g id="mamelin"><rect class="n" x="2178" y="3449" width="107" height="50"/><text><tspan x="2231.5" y="3471">MAMELIN</tspan><tspan x="2231.5" y="3490">Théo</tspan></text></g>
<g id="gunsett"><rect class="n" x="2177" y="3524" width="110" height="50"/><text><tspan x="2232" y="3546">GUNSETT</tspan><tspan x="2232" y="3565">Gabriel</tspan></text></g>
<g id="pons"><rect class="n" x="2110" y="3598" width="243" height="48"/><text x="2231.5" y="3628.5">PONS-COURRIER Mathéo</text></g>
<g id="degrand"><rect class="n" x="2175" y="3670" width="114" height="51"/><text><tspan x="2232" y="3692">DEGRAND</tspan><tspan x="2232" y="3712">Eva</tspan></text></g>
<g id="legrand"><rect class="n" x="2176" y="3745" width="111" height="50"/><text><tspan x="2231.5" y="3767">LEGRAND</tspan><tspan x="2231.5" y="3786">Eliot</tspan></text></g>
<g id="ehrart"><rect class="n" x="2184" y="3820" width="96" height="50"/><text><tspan x="2232" y="3842">EHRART</tspan><tspan x="2232" y="3861">Baptiste</tspan></text></g>
<g id="boutallaka"><rect class="n" x="2161" y="3894" width="142" height="50"/><text><tspan x="2232" y="3916">BOUTALLAKA</tspan><tspan x="2232" y="3935">Basma</tspan></text></g>
<g id="tricoli"><rect class="n" x="2184" y="3969" width="95" height="50"/><text><tspan x="2231.5" y="3991">TRICOLI</tspan><tspan x="2231.5" y="4010">Héloïse</tspan></text></g>
<g id="elhajj"><rect class="n" x="2139" y="4044" width="186" height="50"/><text><tspan x="2232" y="4066">EL HAJJ CHEHADE</tspan><tspan x="2232" y="4085">Mohamad</tspan></text></g>
<g id="nken"><rect class="n" x="2193" y="4118" width="77" height="51"/><text><tspan x="2231.5" y="4140">NKEN</tspan><tspan x="2231.5" y="4160">Robert</tspan></text></g>
</g>
</g>
</svg>
